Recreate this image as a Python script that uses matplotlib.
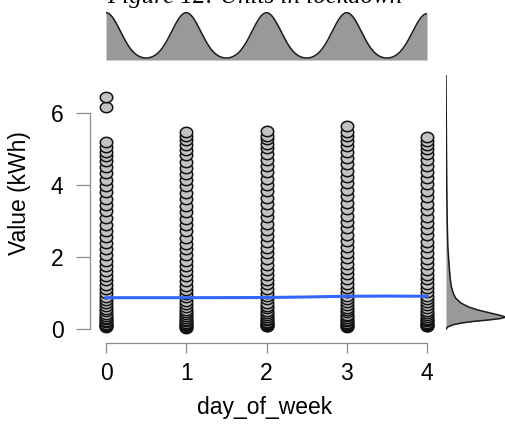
import numpy as np
import matplotlib.pyplot as plt
from matplotlib.path import Path

plt.rcParams['font.family'] = ['Liberation Sans', 'DejaVu Sans']

# hourly consumption values (kWh) per weekday, 0 = Monday
day_0 = [0.06, 0.08, 0.1, 0.12, 0.15, 0.19, 0.22, 0.27, 0.31, 0.36, 0.42, 0.49, 0.55, 0.63,
         0.71, 0.8, 0.9, 0.99, 1.1, 1.22, 1.35, 1.47, 1.6, 1.74, 1.9, 2.05, 2.22, 2.38, 2.55,
         2.73, 2.9, 3.08, 3.27, 3.45, 3.62, 3.8, 3.97, 4.15, 4.33, 4.5, 4.66, 4.8, 4.93, 5.05,
         5.2, 6.17, 6.44]
day_1 = [0.04, 0.06, 0.08, 0.11, 0.14, 0.17, 0.21, 0.26, 0.3, 0.35, 0.41, 0.47, 0.54, 0.62,
         0.7, 0.79, 0.88, 0.98, 1.09, 1.2, 1.33, 1.46, 1.6, 1.75, 1.9, 2.06, 2.21, 2.37, 2.54,
         2.71, 2.89, 3.06, 3.24, 3.42, 3.6, 3.78, 3.96, 4.14, 4.31, 4.48, 4.65, 4.82, 4.98,
         5.12, 5.25, 5.36, 5.48]
day_2 = [0.07, 0.09, 0.11, 0.14, 0.17, 0.2, 0.24, 0.28, 0.33, 0.38, 0.44, 0.5, 0.57, 0.65,
         0.73, 0.82, 0.91, 1.01, 1.12, 1.24, 1.36, 1.5, 1.64, 1.79, 1.94, 2.1, 2.25, 2.42,
         2.58, 2.76, 2.93, 3.11, 3.29, 3.46, 3.64, 3.82, 4.0, 4.17, 4.35, 4.52, 4.69, 4.86,
         5.02, 5.15, 5.27, 5.37, 5.5]
day_3 = [0.06, 0.09, 0.12, 0.15, 0.18, 0.22, 0.26, 0.3, 0.35, 0.4, 0.46, 0.52, 0.59, 0.67,
         0.75, 0.84, 0.93, 1.03, 1.14, 1.26, 1.39, 1.52, 1.66, 1.81, 1.97, 2.12, 2.28, 2.45,
         2.62, 2.8, 2.97, 3.15, 3.33, 3.51, 3.69, 3.87, 4.05, 4.23, 4.4, 4.58, 4.75, 4.92,
         5.08, 5.22, 5.35, 5.47, 5.64]
day_4 = [0.07, 0.09, 0.12, 0.15, 0.18, 0.21, 0.25, 0.29, 0.34, 0.39, 0.45, 0.51, 0.58, 0.66,
         0.74, 0.83, 0.92, 1.02, 1.13, 1.25, 1.38, 1.51, 1.65, 1.8, 1.95, 2.11, 2.27, 2.43,
         2.6, 2.77, 2.95, 3.12, 3.3, 3.48, 3.66, 3.84, 4.02, 4.19, 4.36, 4.53, 4.7, 4.86,
         5.0, 5.12, 5.22, 5.33]
days = [day_0, day_1, day_2, day_3, day_4]
day_ticks = [0, 1, 2, 3, 4]

# loess trend of value on day_of_week
smooth_x = [0, 1, 2, 2.5, 3, 3.5, 4]
smooth_y = [0.87, 0.87, 0.875, 0.89, 0.91, 0.915, 0.91]

# marginal density of value (relative height)
dens_y = [7.05, 6.0, 5.0, 4.0, 3.0, 2.3, 1.8, 1.4, 1.17, 1.0, 0.86, 0.72, 0.61, 0.52,
          0.44, 0.38, 0.33, 0.29, 0.25, 0.21, 0.17, 0.12, 0.06, 0.0]
dens_v = [0.0, 0.004, 0.008, 0.012, 0.02, 0.03, 0.05, 0.07, 0.09, 0.12, 0.16, 0.25, 0.38,
          0.55, 0.75, 0.9, 1.0, 0.9, 0.7, 0.45, 0.27, 0.12, 0.03, 0.0]

W, H = 506, 426
fig = plt.figure(figsize=(W / 100, H / 100), dpi=100)

def px_axes(x0, y0, x1, y1):
    return fig.add_axes([x0 / W, 1 - y1 / H, (x1 - x0) / W, (y1 - y0) / H])

# slightly wide ellipse marker
t = np.linspace(0, 2 * np.pi, 40)
ell = Path(np.column_stack([0.6 * np.cos(t), 0.5 * np.sin(t)]), closed=True)

ax = px_axes(80, 75, 440, 345)
for d, vals in zip(day_ticks, days):
    ax.scatter([d] * len(vals), vals, marker=ell, s=80, facecolor='#c2c2c2',
               edgecolor='#111111', linewidth=1.1, zorder=2)
ax.plot(smooth_x, smooth_y, color='#3366ff', lw=2.2, zorder=3)

ax.set_xlim(-0.324, 4.162)
ax.set_ylim(-0.444, 7.056)
ax.spines[['top', 'right']].set_visible(False)
ax.spines['left'].set_position(('data', -0.2))
ax.spines['left'].set_bounds(0, 6)
ax.spines['bottom'].set_position(('data', -0.389))
ax.spines['bottom'].set_bounds(0, 4)
for s in ('left', 'bottom'):
    ax.spines[s].set_color('#8c8c8c')
    ax.spines[s].set_linewidth(0.9)
ax.set_xticks(day_ticks)
ax.set_yticks([0, 2, 4, 6])
ax.tick_params(axis='y', length=10, pad=9, color='#8c8c8c', width=0.9, labelsize=16.5)
ax.tick_params(axis='x', length=7, pad=7, color='#8c8c8c', width=0.9, labelsize=16.5)
ax.patch.set_visible(False)

# top: density of day_of_week
all_days = np.concatenate([[d] * len(v) for d, v in zip(day_ticks, days)])
gx = np.linspace(0, 4, 400)
bw = 0.18
gy = np.exp(-0.5 * ((gx[:, None] - all_days[None, :]) / bw) ** 2).sum(axis=1)
gy = gy / gy.max()
axt = px_axes(106, 10, 427, 60)
axt.fill_between(gx, 0, gy, color='#999999', lw=0)
axt.plot(gx, gy, color='#1a1a1a', lw=1.1)
axt.set_xlim(0, 4)
axt.set_ylim(0, 1 / 0.946)
axt.axis('off')

# right: density of value
axr = px_axes(446, 75, 506, 345)
axr.fill_betweenx(dens_y, 0, dens_v, color='#999999', lw=0)
axr.plot(dens_v, dens_y, color='#1a1a1a', lw=1.1)
axr.set_xlim(0, 1.0)
axr.set_ylim(-0.444, 7.056)
axr.axis('off')

fig.text(255 / W, 1 - 3 / H, 'Figure 12: Units in lockdown', ha='center', va='baseline',
         family='Liberation Serif', style='italic', fontsize=18)
fig.text(20 / W, 1 - 193 / H, 'Value (kWh)', rotation=90, ha='center', va='center',
         fontsize=16.5)
fig.text(265 / W, 1 - 414 / H, 'day_of_week', ha='center', va='baseline', fontsize=16.5)

fig.savefig('out.png', dpi=100)
